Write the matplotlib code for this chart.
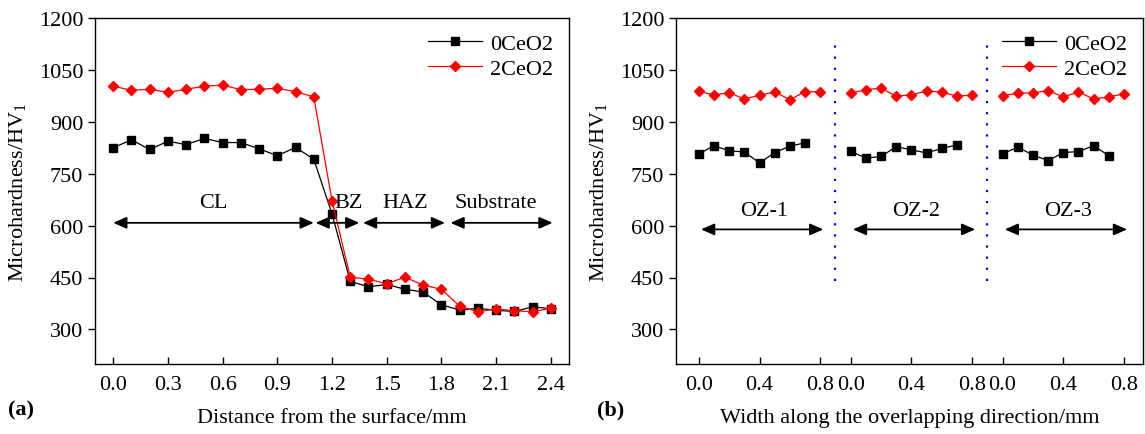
import matplotlib
matplotlib.use("Agg")
import matplotlib.pyplot as plt
import numpy as np

plt.rcParams['font.family'] = ['Liberation Serif', 'DejaVu Serif']
plt.rcParams['mathtext.fontset'] = 'custom'
plt.rcParams['mathtext.rm'] = 'Liberation Serif'
plt.rcParams['mathtext.it'] = 'Liberation Serif:italic'

# ---- Panel (a) data ----
dist_mm = [0.0, 0.1, 0.2, 0.3, 0.4, 0.5, 0.6, 0.7, 0.8, 0.9, 1.0, 1.1, 1.2,
           1.3, 1.4, 1.5, 1.6, 1.7, 1.8, 1.9, 2.0, 2.1, 2.2, 2.3, 2.4]
a_0ceo2 = [825, 848, 820, 844, 834, 852, 840, 840, 822, 802, 826, 792, 634,
           439, 423, 430, 416, 408, 371, 356, 361, 355, 352, 365, 360]
a_2ceo2 = [1003, 991, 994, 985, 994, 1003, 1006, 993, 994, 997, 987, 972, 672,
           451, 445, 432, 451, 428, 416, 367, 351, 359, 354, 351, 361]

# ---- Panel (b) data (three overlapping zones) ----
zone_names = ['OZ-1', 'OZ-2', 'OZ-3']
zone_offsets = [0.0, 1.0, 2.0]
b_x_0 = [0.0, 0.1, 0.2, 0.3, 0.4, 0.5, 0.6, 0.7]
b_x_2 = [0.0, 0.1, 0.2, 0.3, 0.4, 0.5, 0.6, 0.7, 0.8]
b_0ceo2 = [
    [807, 831, 816, 813, 781, 811, 830, 839],
    [815, 795, 800, 828, 819, 810, 823, 833],
    [807, 827, 804, 788, 811, 814, 831, 802],
]
b_2ceo2 = [
    [988, 978, 984, 966, 977, 986, 964, 987, 987],
    [982, 993, 997, 974, 978, 989, 986, 974, 977],
    [976, 982, 984, 990, 972, 986, 966, 972, 981],
]
b_tick_labels = ['0.0', '0.4', '0.8']

FS = 16

fig = plt.figure(figsize=(11.45, 4.35), dpi=100)
ax1 = fig.add_axes([95/1145, 1-365/435, 474/1145, 346/435])
ax2 = fig.add_axes([676/1145, 1-365/435, 467/1145, 346/435])

black_kw = dict(color='black', marker='s', markersize=5.2, linewidth=0.9)
red_kw = dict(color='red', marker='D', markersize=5.0, linewidth=0.9)

def style(ax):
    ax.set_ylim(200, 1200)
    ax.set_yticks([300, 450, 600, 750, 900, 1050, 1200])
    ax.tick_params(axis='y', direction='out', length=5, width=1, labelsize=FS)
    ax.tick_params(axis='x', direction='in', length=5, width=1, labelsize=FS, pad=8)
    for s in ax.spines.values():
        s.set_linewidth(1.0)
    ax.set_ylabel('Microhardness/HV$_1$', fontsize=FS, labelpad=8)

def darrow(ax, x0, x1, y):
    ax.annotate('', xy=(x1, y), xytext=(x0, y),
                arrowprops=dict(arrowstyle='<|-|>,head_length=0.5,head_width=0.22',
                                color='black', lw=1.3,
                                mutation_scale=16, shrinkA=0, shrinkB=0))

# Panel (a)
ax1.plot(dist_mm, a_0ceo2, label='0CeO2', **black_kw)
ax1.plot(dist_mm, a_2ceo2, label='2CeO2', **red_kw)
style(ax1)
ax1.set_xlim(-0.1, 2.5)
ax1.set_xticks([0.0, 0.3, 0.6, 0.9, 1.2, 1.5, 1.8, 2.1, 2.4])
ax1.set_xticklabels(['0.0', '0.3', '0.6', '0.9', '1.2', '1.5', '1.8', '2.1', '2.4'])
ax1.set_xlabel('Distance from the surface/mm', fontsize=FS, labelpad=10)
arr_y = 608
darrow(ax1, 0.0, 1.1, arr_y)
darrow(ax1, 1.11, 1.35, arr_y)
darrow(ax1, 1.37, 1.82, arr_y)
darrow(ax1, 1.85, 2.41, arr_y)
ty = 668
ax1.text(0.55, ty, 'CL', ha='center', va='center', fontsize=FS)
ax1.text(1.29, ty, 'BZ', ha='center', va='center', fontsize=FS)
ax1.text(1.6, ty, 'HAZ', ha='center', va='center', fontsize=FS)
ax1.text(2.1, ty, 'Substrate', ha='center', va='center', fontsize=FS)
ax1.legend(loc='upper right', frameon=False, fontsize=FS, handlelength=2.4,
           borderaxespad=0.3, labelspacing=0.2, handletextpad=0.4)

# Panel (b)
for i, off in enumerate(zone_offsets):
    xb0 = [off + v for v in b_x_0]
    xb2 = [off + v for v in b_x_2]
    ax2.plot(xb0, b_0ceo2[i], label='0CeO2' if i == 0 else None, **black_kw)
    ax2.plot(xb2, b_2ceo2[i], label='2CeO2' if i == 0 else None, **red_kw)
    darrow(ax2, off + 0.015, off + 0.82, 589)
    ax2.text(off + 0.43, 645, zone_names[i], ha='center', va='center', fontsize=FS)
for xv in [0.9, 1.9]:
    ax2.plot([xv, xv], [440, 1130], color='blue', linestyle=(0, (1, 4)), linewidth=1.6)
style(ax2)
ax2.set_xlim(-0.15, 2.925)
ticks_b = []
labels_b = []
for off in zone_offsets:
    for t in b_tick_labels:
        ticks_b.append(off + float(t))
        labels_b.append(t)
ax2.set_xticks(ticks_b)
ax2.set_xticklabels(labels_b)
ax2.set_xlabel('Width along the overlapping direction/mm', fontsize=FS, labelpad=10)
ax2.legend(loc='upper right', frameon=False, fontsize=FS, handlelength=2.4,
           borderaxespad=0.3, labelspacing=0.2, handletextpad=0.4)

fig.text(8/1145, 1-410/435, '(a)', fontsize=FS, fontweight='bold', va='center', ha='left')
fig.text(597/1145, 1-410/435, '(b)', fontsize=FS, fontweight='bold', va='center', ha='left')

fig.savefig('out.png', dpi=100)
